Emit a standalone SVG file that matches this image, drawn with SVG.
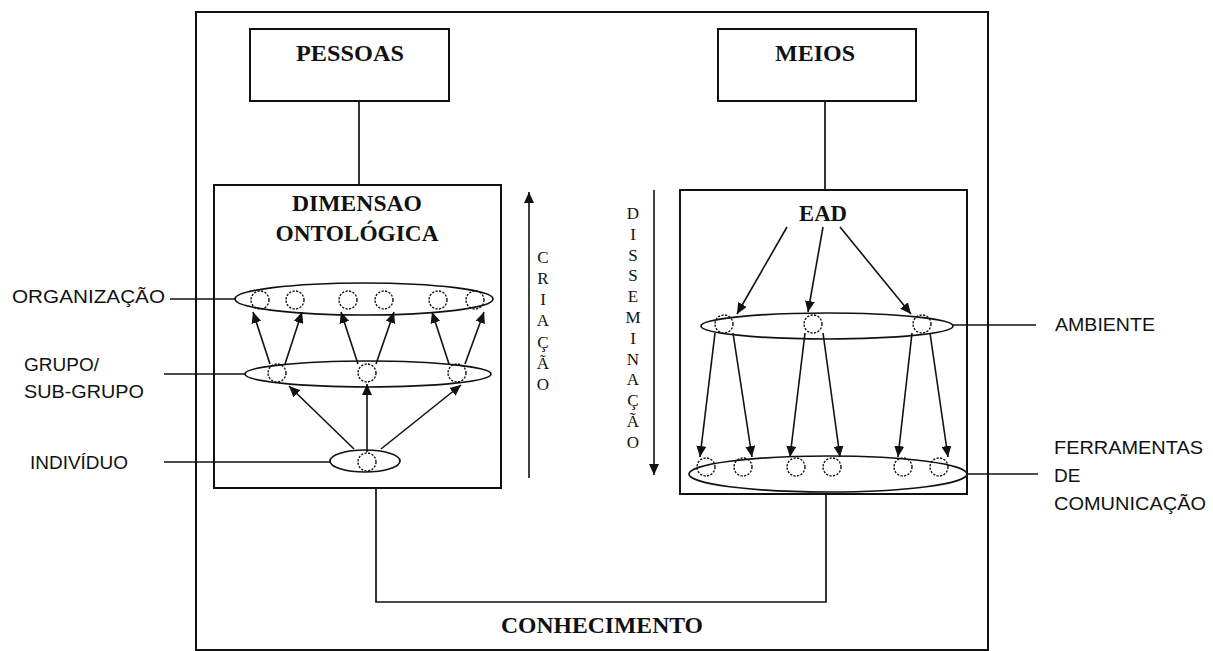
<svg xmlns="http://www.w3.org/2000/svg" width="1213" height="651" viewBox="0 0 1213 651">
<style>
.box{fill:none;stroke:#111;stroke-width:2}
.ln{fill:none;stroke:#111;stroke-width:1.7}
.el{fill:none;stroke:#111;stroke-width:1.7}
.dot{fill:none;stroke:#111;stroke-width:1.4;stroke-dasharray:2.2,1.4}
.ar{fill:none;stroke:#111;stroke-width:1.6;marker-end:url(#ah)}
.bt{font-family:"Liberation Serif","Times New Roman",serif;font-weight:bold;font-size:23px;fill:#111;text-anchor:middle}
.st{font-family:"Liberation Sans",Arial,sans-serif;font-size:19px;fill:#111}
.vt{font-family:"Liberation Serif","Times New Roman",serif;font-size:17px;fill:#111;text-anchor:middle}
</style>
<defs>
<marker id="ah" markerUnits="userSpaceOnUse" markerWidth="12" markerHeight="10" refX="11" refY="5" orient="auto">
<path d="M0,0 L11,5 L0,10 z" fill="#111"/>
</marker>
</defs>
<rect width="1213" height="651" fill="#fff"/>
<rect id="frame" class="box" x="196" y="12" width="792" height="638"/>

<g id="pessoas">
<rect class="box" x="250" y="29" width="199" height="72"/>
<text class="bt" x="350" y="61" textLength="108" lengthAdjust="spacingAndGlyphs">PESSOAS</text>
</g>
<g id="meios">
<rect class="box" x="718" y="29" width="198" height="72"/>
<text class="bt" x="815" y="61" textLength="80" lengthAdjust="spacingAndGlyphs">MEIOS</text>
</g>

<g id="dimensao">
<rect class="box" x="214" y="185" width="287" height="303"/>
<text class="bt" x="357" y="211" textLength="130" lengthAdjust="spacingAndGlyphs">DIMENSAO</text>
<text class="bt" x="357" y="241" textLength="163" lengthAdjust="spacingAndGlyphs">ONTOLÓGICA</text>
</g>

<g id="organizacao">
<ellipse class="el" cx="364" cy="299" rx="129" ry="16"/>
<circle class="dot" cx="260" cy="300" r="9"/>
<circle class="dot" cx="295" cy="300" r="9"/>
<circle class="dot" cx="348" cy="300" r="9"/>
<circle class="dot" cx="384" cy="300" r="9"/>
<circle class="dot" cx="438" cy="300" r="9"/>
<circle class="dot" cx="475" cy="300" r="9"/>
</g>
<g id="grupo">
<ellipse class="el" cx="368" cy="374" rx="123" ry="13"/>
<circle class="dot" cx="277" cy="373" r="9"/>
<circle class="dot" cx="367" cy="373" r="9"/>
<circle class="dot" cx="457" cy="373" r="9"/>
</g>
<g id="individuo">
<ellipse class="el" cx="365" cy="461" rx="35" ry="11"/>
<circle class="dot" cx="367" cy="462" r="9"/>
</g>

<g id="ead">
<rect class="box" x="680" y="190" width="287" height="304"/>
<text class="bt" x="823" y="221" textLength="48" lengthAdjust="spacingAndGlyphs">EAD</text>
</g>
<g id="ambiente">
<ellipse class="el" cx="827" cy="326" rx="126" ry="13"/>
<circle class="dot" cx="724" cy="324" r="9"/>
<circle class="dot" cx="813" cy="324" r="9"/>
<circle class="dot" cx="922" cy="324" r="9"/>
</g>
<g id="ferramentas">
<ellipse class="el" cx="828" cy="474" rx="139" ry="18"/>
<circle class="dot" cx="706" cy="467" r="9"/>
<circle class="dot" cx="743" cy="467" r="9"/>
<circle class="dot" cx="796" cy="467" r="9"/>
<circle class="dot" cx="832" cy="467" r="9"/>
<circle class="dot" cx="903" cy="467" r="9"/>
<circle class="dot" cx="939" cy="467" r="9"/>
</g>

<g id="labels">
<text class="st" x="12" y="303" textLength="153" lengthAdjust="spacingAndGlyphs">ORGANIZAÇÃO</text>
<text class="st" x="24" y="371">GRUPO/</text>
<text class="st" x="24" y="398" textLength="120" lengthAdjust="spacingAndGlyphs">SUB-GRUPO</text>
<text class="st" x="30" y="469" textLength="98" lengthAdjust="spacingAndGlyphs">INDIVÍDUO</text>
<text class="st" x="1055" y="331" textLength="100" lengthAdjust="spacingAndGlyphs">AMBIENTE</text>
<text class="st" x="1054" y="454" textLength="149" lengthAdjust="spacingAndGlyphs">FERRAMENTAS</text>
<text class="st" x="1054" y="482">DE</text>
<text class="st" x="1054" y="510" textLength="152" lengthAdjust="spacingAndGlyphs">COMUNICAÇÃO</text>
<text class="vt"><tspan x="543" y="263">C</tspan><tspan x="543" y="284">R</tspan><tspan x="543" y="305">I</tspan><tspan x="543" y="326">A</tspan><tspan x="543" y="348">Ç</tspan><tspan x="543" y="369">Ã</tspan><tspan x="543" y="390">O</tspan></text>
<text class="vt"><tspan x="633" y="219">D</tspan><tspan x="633" y="240">I</tspan><tspan x="633" y="261">S</tspan><tspan x="633" y="281">S</tspan><tspan x="633" y="302">E</tspan><tspan x="633" y="323">M</tspan><tspan x="633" y="344">I</tspan><tspan x="633" y="365">N</tspan><tspan x="633" y="385">A</tspan><tspan x="633" y="406">Ç</tspan><tspan x="633" y="427">Ã</tspan><tspan x="633" y="448">O</tspan></text>
<text class="bt" x="602" y="633" textLength="202" lengthAdjust="spacingAndGlyphs">CONHECIMENTO</text>
</g>

<g id="connectors">
<line class="ln" x1="359" y1="101" x2="359" y2="185"/>
<line class="ln" x1="825" y1="101" x2="825" y2="190"/>
<polyline class="ln" points="376,488 376,602 826,602 826,494"/>
<line class="ln" x1="170" y1="299" x2="235" y2="299"/>
<line class="ln" x1="164" y1="374" x2="245" y2="374"/>
<line class="ln" x1="164" y1="462" x2="330" y2="462"/>
<line class="ln" x1="953" y1="325" x2="1036" y2="325"/>
<line class="ln" x1="967" y1="474" x2="1038" y2="474"/>
<line class="ar" x1="529" y1="478" x2="529" y2="192"/>
<line class="ar" x1="654" y1="190" x2="654" y2="475"/>
<line class="ar" x1="270" y1="364" x2="253" y2="312"/>
<line class="ar" x1="285" y1="364" x2="302" y2="312"/>
<line class="ar" x1="358" y1="364" x2="341" y2="312"/>
<line class="ar" x1="376" y1="364" x2="394" y2="312"/>
<line class="ar" x1="449" y1="364" x2="432" y2="312"/>
<line class="ar" x1="465" y1="364" x2="484" y2="312"/>
<line class="ar" x1="354" y1="449" x2="289" y2="386"/>
<line class="ar" x1="367" y1="452" x2="367" y2="384"/>
<line class="ar" x1="381" y1="449" x2="461" y2="385"/>
<line class="ar" x1="787" y1="227" x2="737" y2="314"/>
<line class="ar" x1="823" y1="227" x2="808" y2="312"/>
<line class="ar" x1="840" y1="227" x2="911" y2="314"/>
<line class="ar" x1="715" y1="333" x2="700" y2="457"/>
<line class="ar" x1="733" y1="333" x2="752" y2="457"/>
<line class="ar" x1="805" y1="333" x2="790" y2="457"/>
<line class="ar" x1="823" y1="333" x2="840" y2="457"/>
<line class="ar" x1="912" y1="333" x2="898" y2="457"/>
<line class="ar" x1="930" y1="333" x2="948" y2="457"/>
</g>
</svg>
